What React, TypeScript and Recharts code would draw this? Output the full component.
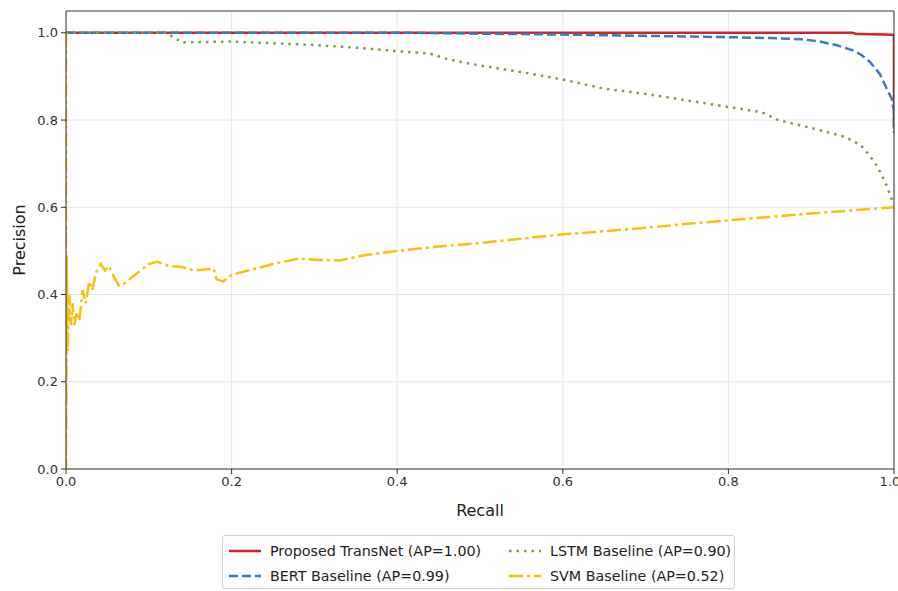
import React from 'react';
import { LineChart, Line, XAxis, YAxis, CartesianGrid, ReferenceLine } from 'recharts';

// Precision-recall points
const transnetRecall = [0, 0.95, 0.955, 0.99, 1.0, 1.0];
const transnetPrecision = [1.0, 1.0, 0.997, 0.996, 0.995, 0.78];

const bertRecall = [0, 0.42, 0.5, 0.6, 0.7, 0.8, 0.85, 0.89, 0.91, 0.93, 0.95, 0.96, 0.97, 0.976, 0.983, 0.988, 0.993, 0.997, 1.0, 1.0];
const bertPrecision = [1.0, 1.0, 0.998, 0.996, 0.993, 0.99, 0.988, 0.985, 0.98, 0.972, 0.96, 0.95, 0.935, 0.922, 0.905, 0.885, 0.865, 0.85, 0.82, 0.77];

const lstmRecall = [0, 0.12, 0.13, 0.14, 0.2, 0.25, 0.3, 0.35, 0.4, 0.44, 0.46, 0.5, 0.55, 0.6, 0.65, 0.7, 0.75, 0.8, 0.84, 0.86, 0.9, 0.94, 0.96, 0.97, 0.98, 0.99, 1.0];
const lstmPrecision = [1.0, 1.0, 0.99, 0.978, 0.98, 0.976, 0.972, 0.966, 0.958, 0.952, 0.94, 0.925, 0.91, 0.893, 0.872, 0.86, 0.845, 0.83, 0.818, 0.8, 0.782, 0.762, 0.742, 0.72, 0.693, 0.655, 0.605];

const svmRecall = [0, 0, 0.001, 0.002, 0.004, 0.006, 0.008, 0.01, 0.013, 0.016, 0.02, 0.024, 0.028, 0.032, 0.036, 0.042, 0.047, 0.052, 0.058, 0.064, 0.07, 0.08, 0.09, 0.1, 0.11, 0.125, 0.14, 0.155, 0.17, 0.178, 0.182, 0.19, 0.2, 0.22, 0.25, 0.28, 0.3, 0.33, 0.36, 0.4, 0.45, 0.5, 0.55, 0.6, 0.65, 0.7, 0.75, 0.8, 0.85, 0.9, 0.95, 1.0];
const svmPrecision = [1.0, 0.0, 0.49, 0.27, 0.4, 0.33, 0.38, 0.33, 0.36, 0.34, 0.41, 0.38, 0.43, 0.41, 0.45, 0.47, 0.455, 0.465, 0.44, 0.42, 0.425, 0.44, 0.455, 0.47, 0.475, 0.465, 0.463, 0.455, 0.458, 0.46, 0.435, 0.43, 0.445, 0.455, 0.47, 0.482, 0.48, 0.478, 0.49, 0.5, 0.51, 0.518, 0.528, 0.538, 0.545, 0.553, 0.562, 0.57, 0.578, 0.586, 0.593, 0.6];

const ticks = [0, 0.2, 0.4, 0.6, 0.8, 1.0];

const toPoints = (r: number[], p: number[]) => r.map((recall, i) => ({ recall, precision: p[i] }));

const series = [
  { name: 'Proposed TransNet (AP=1.00)', data: toPoints(transnetRecall, transnetPrecision), color: '#d3232a', dash: undefined },
  { name: 'BERT Baseline (AP=0.99)', data: toPoints(bertRecall, bertPrecision), color: '#3d7bb6', dash: '9 4' },
  { name: 'LSTM Baseline (AP=0.90)', data: toPoints(lstmRecall, lstmPrecision), color: '#77a04a', dash: '2.5 5' },
  { name: 'SVM Baseline (AP=0.52)', data: toPoints(svmRecall, svmPrecision), color: '#f5c20f', dash: '14 4 3 4' },
];

const font = '"DejaVu Sans", sans-serif';

const LegendItem = ({ s }: { s: typeof series[number] }) => (
  <div style={{ display: 'flex', alignItems: 'center', height: 25 }}>
    <svg width={34} height={10} style={{ marginRight: 8 }}>
      <line x1={1} y1={5} x2={33} y2={5} stroke={s.color} strokeWidth={2.5} strokeDasharray={s.dash} />
    </svg>
    <span style={{ whiteSpace: 'nowrap' }}>{s.name}</span>
  </div>
);

export default function App() {
  return (
    <div style={{ position: 'relative', width: 898, height: 591, background: '#fff', fontFamily: font }}>
      <style>{'body{margin:0}'}</style>
      <LineChart width={898} height={591} margin={{ top: 11, right: 4, left: 0, bottom: 92 }}>
        <CartesianGrid stroke="#e6e6e6" strokeWidth={1} horizontalValues={ticks} verticalValues={ticks} />
        <XAxis
          type="number"
          dataKey="recall"
          domain={[0, 1]}
          ticks={ticks}
          tickFormatter={(v: number) => v.toFixed(1)}
          height={30}
          stroke="#333"
          tickSize={5}
          tickMargin={3}
          tick={{ fill: '#333', fontSize: 13, fontFamily: font }}
          allowDataOverflow
        />
        <YAxis
          type="number"
          domain={[0, 1.05]}
          ticks={ticks}
          tickFormatter={(v: number) => v.toFixed(1)}
          width={66}
          stroke="#333"
          tickSize={5}
          tickMargin={3}
          tick={{ fill: '#333', fontSize: 13, fontFamily: font }}
          allowDataOverflow
        />
        {series.map((s) => (
          <Line
            key={s.name}
            data={s.data}
            dataKey="precision"
            type="linear"
            stroke={s.color}
            strokeWidth={2.5}
            strokeDasharray={s.dash}
            dot={false}
            activeDot={false}
            isAnimationActive={false}
          />
        ))}
        <ReferenceLine y={1.05} stroke="#333" strokeWidth={1} />
        <ReferenceLine x={1} stroke="#333" strokeWidth={1} />
      </LineChart>
      <div style={{ position: 'absolute', left: 0, width: 960, top: 501, textAlign: 'center', fontSize: 16, color: '#222' }}>
        Recall
      </div>
      <div
        style={{
          position: 'absolute',
          left: 19,
          top: 240,
          transform: 'translate(-50%, -50%) rotate(-90deg)',
          fontSize: 16,
          color: '#222',
        }}
      >
        Precision
      </div>
      <div
        style={{
          position: 'absolute',
          left: 222,
          top: 535,
          width: 513,
          height: 54,
          boxSizing: 'border-box',
          border: '1px solid #d0d0d0',
          borderRadius: 3,
          padding: '2px 5px',
          display: 'grid',
          gridTemplateColumns: '280px 1fr',
          gridAutoFlow: 'column',
          gridTemplateRows: '25px 25px',
          fontSize: 14.3,
          color: '#222',
        }}
      >
        {series.map((s) => (
          <LegendItem key={s.name} s={s} />
        ))}
      </div>
    </div>
  );
}
